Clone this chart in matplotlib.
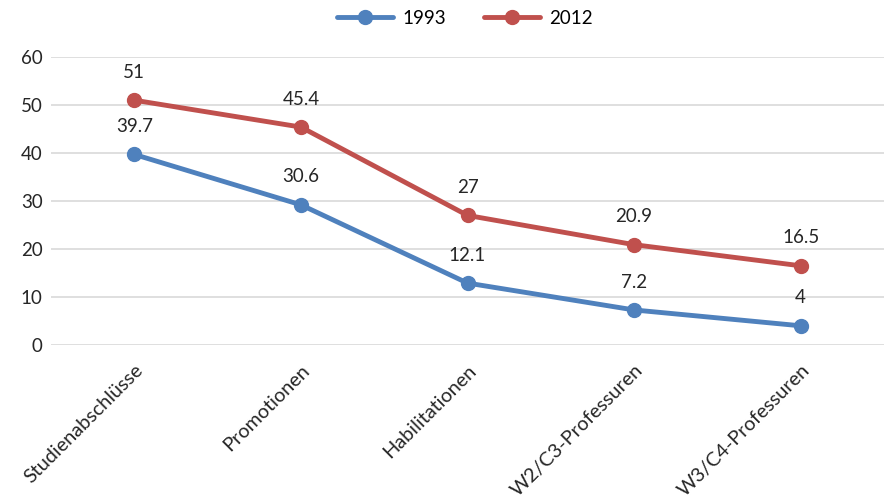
import matplotlib
matplotlib.use("Agg")
import matplotlib.pyplot as plt

categories = ["Studienabschlüsse", "Promotionen", "Habilitationen",
              "W2/C3-Professuren", "W3/C4-Professuren"]
series_names = ["1993", "2012"]
values_1993 = [39.7, 29.2, 12.9, 7.3, 4.0]
values_2012 = [51.0, 45.4, 27.0, 20.9, 16.5]
labels_1993 = ["39.7", "30.6", "12.1", "7.2", "4"]
labels_2012 = ["51", "45.4", "27", "20.9", "16.5"]
y_ticks = [0, 10, 20, 30, 40, 50, 60]

plt.rcParams['font.family'] = ['Lato', 'DejaVu Sans']

fig = plt.figure(figsize=(8.84, 5.03), dpi=100)
ax = fig.add_axes([51/884, 1-345/503, 833/884, 288/503])

colors = ["#4F81BD", "#C0504D"]
x = list(range(len(categories)))
for vals, labs, name, c in [(values_1993, labels_1993, series_names[0], colors[0]),
                            (values_2012, labels_2012, series_names[1], colors[1])]:
    ax.plot(x, vals, color=c, lw=3.5, marker='o', ms=10, label=name,
            solid_capstyle='round', zorder=3)
    for xi, v, t in zip(x, vals, labs):
        ax.annotate(t, (xi, v), xytext=(0, 14), textcoords='offset points',
                    ha='center', va='bottom', fontsize=13.5, color='#262626')

ax.set_xlim(-0.5, len(categories) - 0.5)
ax.set_ylim(0, 60)
ax.set_yticks(y_ticks)
ax.set_yticklabels([str(t) for t in y_ticks], fontsize=13.5, color='#262626')
ax.set_xticks(x)
ax.set_xticklabels(categories, rotation=45, ha='right', va='top',
                   rotation_mode='anchor', fontsize=14.3, color='#262626')
ax.tick_params(axis='both', length=0)
ax.tick_params(axis='y', pad=6)
ax.tick_params(axis='x', pad=12)
ax.grid(axis='y', color='#D9D9D9', lw=1.2)
ax.set_axisbelow(True)
for s in ax.spines.values():
    s.set_visible(False)

fig.legend(loc='center', bbox_to_anchor=(465/884, 1-18/503), ncol=2,
           frameon=False, fontsize=13.5, handlelength=3.0, columnspacing=2.0,
           handletextpad=0.5)

fig.savefig("out.png", dpi=100)
